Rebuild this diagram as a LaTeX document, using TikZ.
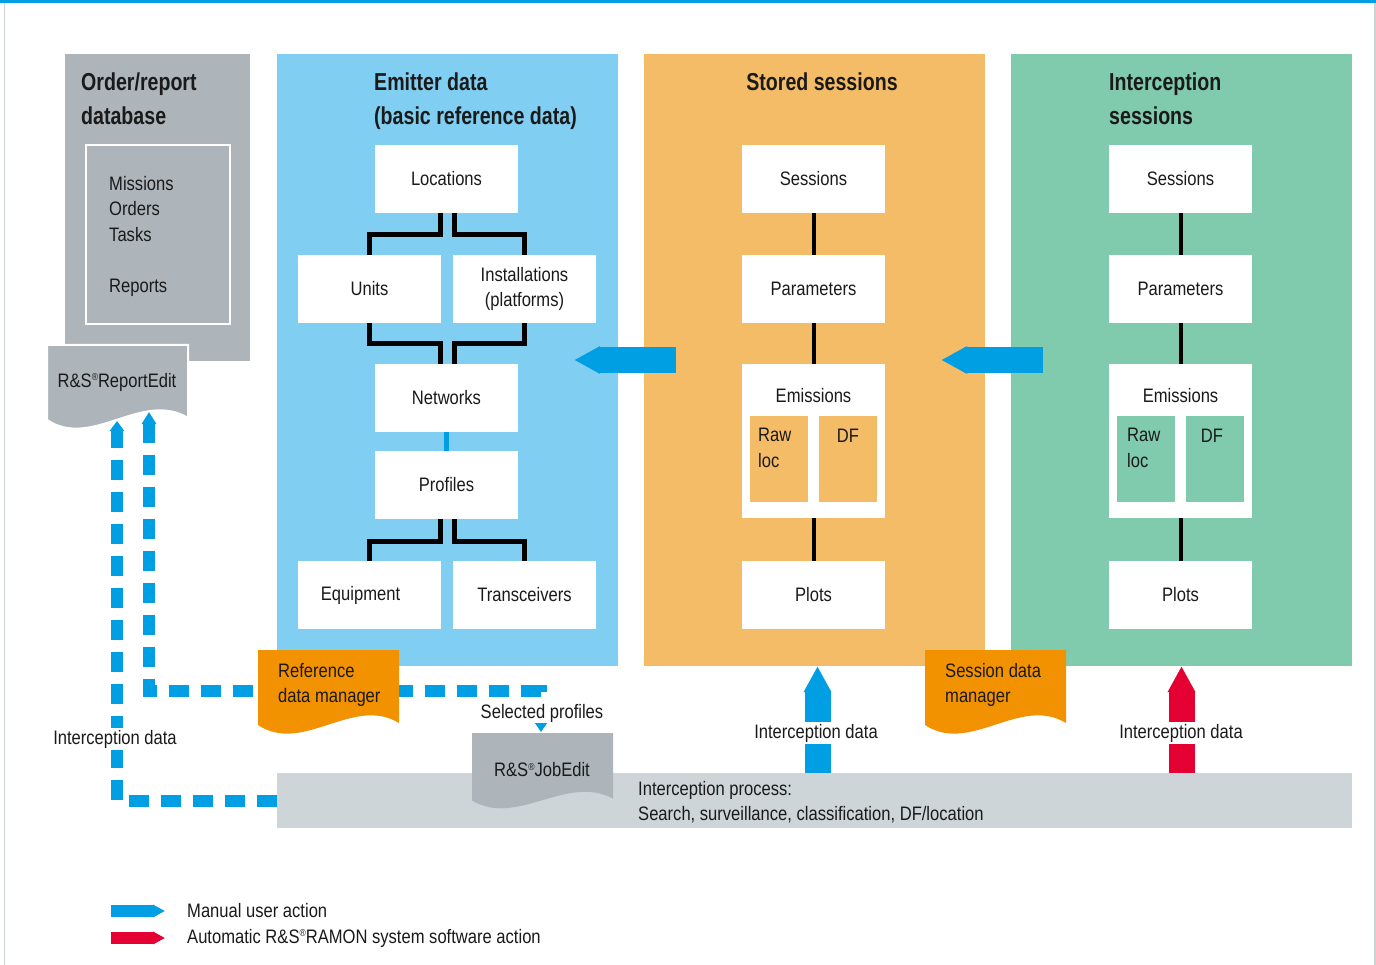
\documentclass[tikz,border=0pt]{standalone}
\usepackage{fontspec}
\setmainfont[FakeStretch=0.85]{Liberation Sans}
\newfontfamily\titlefam[FakeStretch=0.8]{Liberation Sans}
\usetikzlibrary{arrows.meta,positioning}

\definecolor{rsblue}{RGB}{0,159,227}
\definecolor{rsred}{RGB}{228,0,50}
\definecolor{embg}{RGB}{128,206,241}
\definecolor{ssbg}{RGB}{245,188,103}
\definecolor{isbg}{RGB}{128,203,173}
\definecolor{dbgray}{RGB}{173,181,186}
\definecolor{bargray}{RGB}{205,213,217}
\definecolor{mgrorange}{RGB}{243,146,0}
\definecolor{txt}{RGB}{26,26,26}
\definecolor{framegray}{RGB}{205,210,213}

\newcommand{\bodyfont}{\fontsize{19.5}{25.5}\selectfont}
\newcommand{\titlefont}{\titlefam\fontsize{24.5}{34}\selectfont\bfseries}
\newcommand{\RSmark}{R\&S\raisebox{0.62ex}{\fontsize{10}{10}\selectfont ®}}

\tikzset{
  panel/.style={minimum width=341, minimum height=612, inner sep=0},
  item/.style={fill=white, minimum width=143, minimum height=68, inner sep=0, align=center, font=\bodyfont, text=txt},
  subbox/.style={minimum width=58, minimum height=86, inner sep=0},
  lbl/.style={inner sep=0, font=\bodyfont, text=txt, align=left},
  ttl/.style={inner sep=0, font=\titlefont, text=txt, align=left},
  link/.style={draw=black, line width=4.5pt},
  dashln/.style={draw=rsblue, line width=12pt, dash pattern=on 20pt off 12pt},
  bigarr/.style={line width=26pt, -{Triangle[length=26pt,width=26pt]}},
  docpage/.pic={\path[pic actions] (0,0) -- (141,0) -- (141,73) .. controls (95,45) and (45,105) .. (0,75) -- cycle;}
}

\begin{document}
\begin{tikzpicture}[x=1pt, y=-1pt]
\useasboundingbox (0,0) rectangle (1376,965);
\fill[white] (0,0) rectangle (1376,965);

% frame
\draw[rsblue, line width=3pt] (0,1.5) -- (1376,1.5);
\draw[framegray, line width=1.5pt] (4.5,3) -- (4.5,965);
\draw[framegray, line width=1.5pt] (1375,3) -- (1375,965);

% panels
\node[panel, fill=dbgray, minimum width=185, minimum height=307] (db) at (157.5,207.5) {};
\node[panel, fill=embg] (emit) at (447.5,360) {};
\node[panel, fill=ssbg] (stored) at (814.5,360) {};
\node[panel, fill=isbg] (intc) at (1181.5,360) {};
\node[fill=bargray, minimum width=1075, minimum height=55, inner sep=0] (bar) at (814.5,800.5) {};
\node[lbl, anchor=north west] (bartxt) at (638,781) {Interception process:\\Search, surveillance, classification, DF/location};

% order/report database
\node[ttl, anchor=north west] (dbttl) at (81,73) {Order/report\\database};
\node[draw=white, line width=2pt, minimum width=144, minimum height=179, inner sep=0] (dbbox) at (158,234.5) {};
\node[lbl, anchor=north west] (dblist) at (109,176) {Missions\\Orders\\Tasks\\[25.5pt]Reports};

% emitter data
\node[ttl, anchor=north west] (emttl) at (374,73) {Emitter data\\(basic reference data)};
\node[item] (loc) at (446.5,179) {Locations};
\node[item] (unit) at (369.5,289) {Units};
\node[item] (inst) at (524.5,289) {Installations\\(platforms)};
\node[item] (net) at (446.5,398) {Networks};
\node[item] (prof) at (446.5,485) {Profiles};
\node[item] (equip) at (369.5,595) {Equipment\hspace*{18pt}};
\node[item] (trans) at (524.5,595) {Transceivers};

\draw[link] ([xshift=-6]loc.south) -- ++(0,21.5) -| (unit.north);
\draw[link] ([xshift=8]loc.south) -- ++(0,21.5) -| (inst.north);
\draw[link] (unit.south) -- ++(0,20.5) -| ([xshift=-6]net.north);
\draw[link] (inst.south) -- ++(0,20.5) -| ([xshift=8]net.north);
\draw[rsblue, line width=5pt] (net) -- (prof);
\draw[link] ([xshift=-6]prof.south) -- ++(0,22.5) -| (equip.north);
\draw[link] ([xshift=8]prof.south) -- ++(0,22.5) -| (trans.north);

% stored sessions
\node[ttl, anchor=north] (ssttl) at (822,73) {Stored sessions};
\node[item] (ss1) at (813.5,179) {Sessions};
\node[item] (ss2) at (813.5,289) {Parameters};
\node[item, minimum height=154] (ss3) at (813.5,441) {};
\node[lbl] (ss3t) at (813.5,396) {Emissions};
\node[subbox, fill=ssbg] (ss3a) at (779,459) {};
\node[subbox, fill=ssbg] (ss3b) at (848,459) {};
\node[lbl, anchor=north west] (ss3ra) at (758,428) {Raw\\loc};
\node[lbl, anchor=north] (ss3df) at (848,429) {DF};
\node[item] (ss4) at (813.5,595) {Plots};

\draw[link, line width=4pt] (ss1) -- (ss2);
\draw[link, line width=4pt] (ss2) -- (ss3);
\draw[link, line width=4pt] (ss3) -- (ss4);

% interception sessions
\node[ttl, anchor=north west] (isttl) at (1109,73) {Interception\\sessions};
\node[item] (is1) at (1180.5,179) {Sessions};
\node[item] (is2) at (1180.5,289) {Parameters};
\node[item, minimum height=154] (is3) at (1180.5,441) {};
\node[lbl] (is3t) at (1180.5,396) {Emissions};
\node[subbox, fill=isbg] (is3a) at (1146,459) {};
\node[subbox, fill=isbg] (is3b) at (1215,459) {};
\node[lbl, anchor=north west] (is3ra) at (1127,428) {Raw\\loc};
\node[lbl, anchor=north] (is3df) at (1212,429) {DF};
\node[item] (is4) at (1180.5,595) {Plots};

\draw[link, line width=4pt] (is1) -- (is2);
\draw[link, line width=4pt] (is2) -- (is3);
\draw[link, line width=4pt] (is3) -- (is4);

% manual paths
\coordinate (repin) at (117,421);
\coordinate (repsel) at (149,412);
\coordinate (selturn) at (541,691);
\coordinate (jobin) at (541,732);
\draw[dashln, -{Triangle[length=10pt,width=14pt]}] (bar.west) -| (repin);
\draw[dashln, {Triangle[length=12pt,width=14pt]}-{Triangle[length=10pt,width=13pt]}] (repsel) |- (selturn) -- (jobin);

% tools
\pic[fill=dbgray, draw=white, line width=2pt] at (47,345) {docpage};
\node[lbl] (repedit) at (117,382) {\RSmark ReportEdit};
\pic[fill=mgrorange] at (258,650) {docpage};
\node[lbl, anchor=north west] (refdm) at (278,663) {Reference\\data manager};
\pic[fill=mgrorange] at (925,650) {docpage};
\node[lbl, anchor=north west] (sesdm) at (945,663) {Session data\\manager};
\pic[fill=dbgray, yscale=0.9] at (472,733) {docpage};
\node[lbl] (jobedit) at (542,770) {\RSmark JobEdit};

\node[lbl, fill=white, inner ysep=1.5pt] (intlbl) at (115,739) {Interception data};
\node[lbl, fill=white, inner ysep=1pt] (sellbl) at (542,713) {Selected profiles};

% block arrows
\coordinate (upa) at ([xshift=3]stored.south);
\draw[rsblue, bigarr] ([xshift=32]stored.west) -- ([xshift=-44]emit.east);
\draw[rsblue, bigarr] ([xshift=32]intc.west) -- ([xshift=-44]stored.east);
\draw[rsblue, bigarr] (bar.north -| upa) -- (upa);
\draw[rsred, bigarr] (bar.north -| intc.south) -- (intc.south);
\node[lbl, fill=white, inner ysep=1.5pt] (uplbl1) at (816,733) {Interception data};
\node[lbl, fill=white, inner ysep=1.5pt] (uplbl2) at (1181,733) {Interception data};

% legend
\coordinate (lg1) at (111,911);
\coordinate (lg2) at (111,938);
\node[lbl, anchor=west] (lgt1) at (187,911) {Manual user action};
\node[lbl, anchor=west] (lgt2) at (187,938) {Automatic \RSmark RAMON system software action};
\draw[rsblue, line width=12pt, -{Triangle[length=12pt,width=12pt]}] (lg1) -- ([xshift=-22]lgt1.west);
\draw[rsred, line width=12pt, -{Triangle[length=12pt,width=12pt]}] (lg2) -- ([xshift=-22]lgt2.west);

\end{tikzpicture}
\end{document}
